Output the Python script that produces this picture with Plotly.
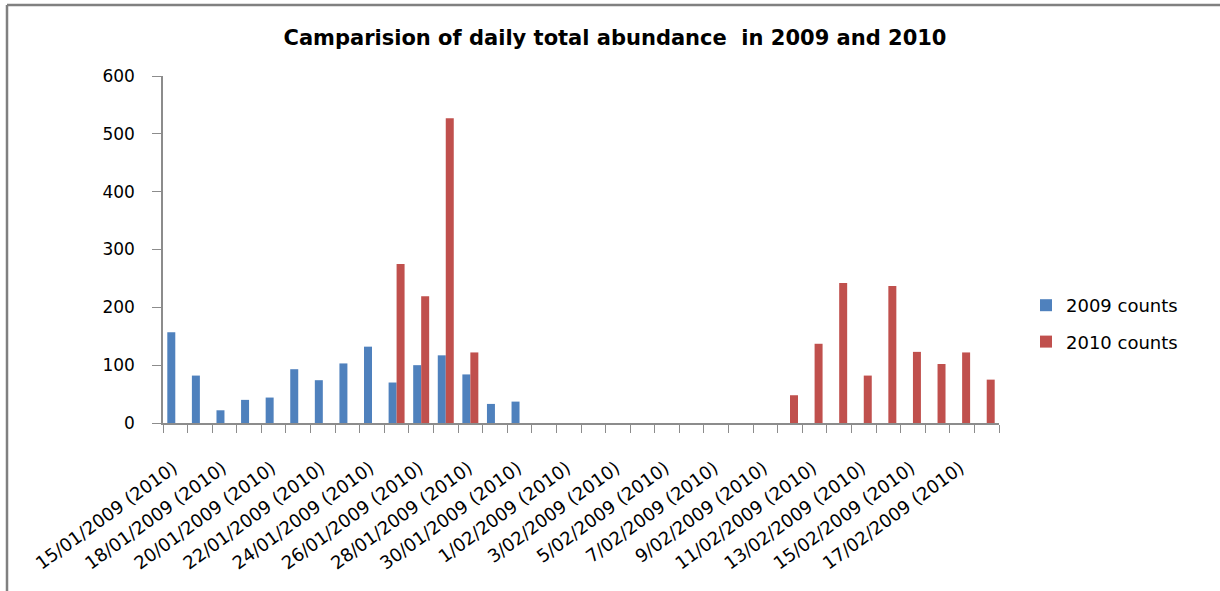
import plotly.graph_objects as go

# ---- data ----
day_labels = ["15/01", "16/01", "18/01", "19/01", "20/01", "21/01", "22/01", "23/01",
              "24/01", "25/01", "26/01", "27/01", "28/01", "29/01", "30/01", "31/01",
              "1/02", "2/02", "3/02", "4/02", "5/02", "6/02", "7/02", "8/02",
              "9/02", "10/02", "11/02", "12/02", "13/02", "14/02", "15/02", "16/02",
              "17/02", "18/02"]
categories = [d + "/2009 (2010)" for d in day_labels]

counts_2009 = [157, 82, 22, 40, 44, 93, 74, 103, 132, 70, 100, 117, 84, 33, 37,
               0, 0, 0, 0, 0, 0, 0, 0, 0, 0, 0, 0, 0, 0, 0, 0, 0, 0, 0]
counts_2010 = [0, 0, 0, 0, 0, 0, 0, 0, 0, 275, 219, 527, 122, 0, 0,
               0, 0, 0, 0, 0, 0, 0, 0, 0, 0, 48, 137, 242, 82, 237, 123, 102, 122, 75]

series_names = ["2009 counts", "2010 counts"]
series_colors = ["#4F81BD", "#C0504D"]
y_ticks = [0, 100, 200, 300, 400, 500, 600]

tick_text = [c if i % 2 == 0 else "" for i, c in enumerate(categories)]

FONT = "DejaVu Sans"
AXIS = "#8c8c8c"

fig = go.Figure()
for name, vals, col in zip(series_names, [counts_2009, counts_2010], series_colors):
    fig.add_trace(go.Bar(
        x=categories, y=vals, name=name, legendgroup=name,
        marker=dict(color=col, line=dict(width=0)),
    ))

L, R, T, B = 163, 221, 76, 168
W, H = 1220, 591
pw, ph = W - L - R, H - T - B

def px(x):
    return (x - L) / pw

def py(y):
    return (H - B - y) / ph

fig.update_layout(
    width=W, height=H,
    margin=dict(l=L, r=R, t=T, b=B, pad=0),
    paper_bgcolor="white", plot_bgcolor="white",
    barmode="group", bargap=0.35, bargroupgap=0,
    font=dict(family=FONT, color="#000000"),
    title=dict(text="<b>Camparision of daily total abundance  in 2009 and 2010</b>",
               x=615 / W, xanchor="center", y=1 - 38 / H, yanchor="middle",
               font=dict(family=FONT, size=21, color="#000000")),
    legend=dict(x=px(1026), xanchor="left", y=py(323.5), yanchor="middle",
                font=dict(family=FONT, size=18), traceorder="grouped",
                tracegroupgap=10, bgcolor="rgba(0,0,0,0)"),
    xaxis=dict(type="category", tickmode="array", tickvals=categories, ticktext=tick_text,
               tickson="boundaries", ticks="outside", ticklen=8, tickcolor=AXIS,
               showline=True, linecolor=AXIS, linewidth=1.5, showgrid=False,
               tickangle=-36, tickfont=dict(family=FONT, size=18),
               ticklabelstandoff=26, ticklabelshift=-2,
               range=[-0.5, len(categories) - 0.5]),
    yaxis=dict(range=[0, 600], tickvals=y_ticks, ticks="outside", ticklen=9,
               tickcolor=AXIS, showline=True, linecolor=AXIS, linewidth=1.5,
               showgrid=False, zeroline=False, tickfont=dict(family=FONT, size=17),
               ticklabelstandoff=14),
    shapes=[
        dict(type="line", xref="paper", yref="paper", x0=px(7), x1=px(W + 5),
             y0=py(5), y1=py(5), line=dict(color="#808080", width=2.5)),
        dict(type="line", xref="paper", yref="paper", x0=px(7), x1=px(7),
             y0=py(5), y1=py(H + 5), line=dict(color="#808080", width=2.5)),
    ],
)

fig.write_html("out.html", config={"displayModeBar": False},
               post_script="document.body.style.margin='0';")
